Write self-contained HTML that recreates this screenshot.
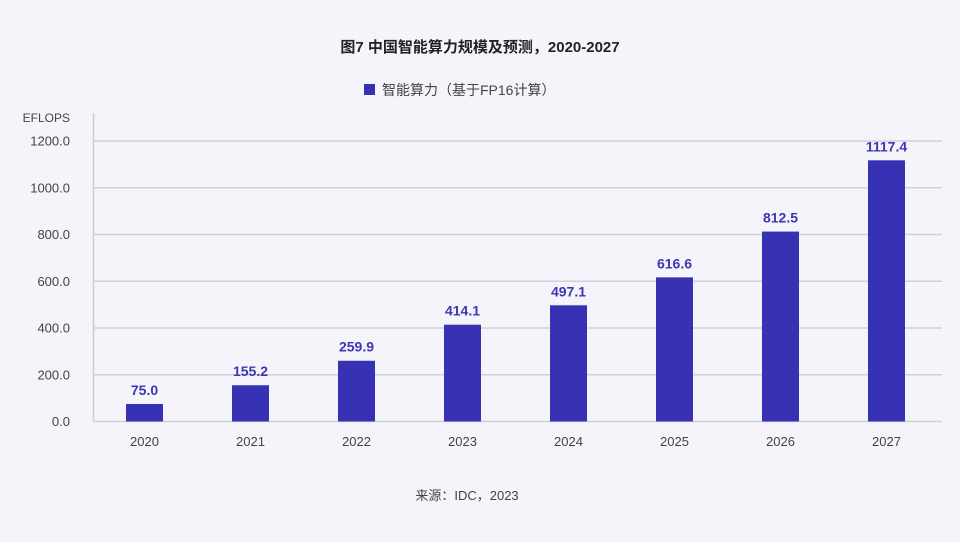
<!DOCTYPE html>
<html><head><meta charset="utf-8"><style>
html,body{margin:0;padding:0;background:#f4f4fa;}
svg{display:block;font-family:"Liberation Sans","Noto Sans CJK SC",sans-serif;}
</style></head><body>
<svg width="960" height="542" viewBox="0 0 960 542" id="chart">
<rect width="960" height="542" fill="#f4f4fa"/>
<text x="480" y="52" text-anchor="middle" font-size="15" font-weight="bold" fill="#222">图7 中国智能算力规模及预测，2020-2027</text>
<g>
<rect x="364" y="84" width="11" height="11" fill="#3732b3"/>
<text x="382" y="95" font-size="14" fill="#444">智能算力（基于FP16计算）</text>
</g>
<text x="70" y="122" text-anchor="end" font-size="12" fill="#444">EFLOPS</text>
<line x1="93.5" y1="113" x2="93.5" y2="421" stroke="#ccc" stroke-width="1.5"/>
<g id="grid"></g><g id="bars"></g><g id="xlabels"></g>
<text x="467" y="500" text-anchor="middle" font-size="13" fill="#444">来源：IDC，2023</text>
</svg>
<script>
const categories=["2020","2021","2022","2023","2024","2025","2026","2027"];
const values=[75.0,155.2,259.9,414.1,497.1,616.6,812.5,1117.4];
const valueLabels=["75.0","155.2","259.9","414.1","497.1","616.6","812.5","1117.4"];
const yTicks=[0,200,400,600,800,1000,1200];
const NS="http://www.w3.org/2000/svg";
const y0=421.5,yTop=141,yMax=1200,xL=93,xR=942;
function y(v){return y0-(v/yMax)*(y0-yTop);}
const band=(xR-xL-2)/categories.length;
function xc(i){return 144.5+i*106;}
function mk(t,a,p){const e=document.createElementNS(NS,t);for(const k in a)e.setAttribute(k,a[k]);p.appendChild(e);return e;}
const grid=document.getElementById('grid');
yTicks.forEach(t=>{
const l=mk('line',{x1:93,x2:942,y1:y(t),y2:y(t),stroke:'#d0d0d8','stroke-width':1.5},grid);


const tx=mk('text',{x:70,y:y(t)+4.5,'text-anchor':'end','font-size':13,fill:'#444'},grid);
tx.textContent=t.toFixed(1);


});
const bars=document.getElementById('bars'),xl=document.getElementById('xlabels');
categories.forEach((c,i)=>{
const b=mk('rect',{x:xc(i)-18.5,y:y(values[i]),width:37,height:y0-y(values[i]),fill:'#3732b3'},bars);


const v=mk('text',{x:xc(i),y:y(values[i])-9,'text-anchor':'middle','font-size':14,'font-weight':'bold',fill:'#3d36b5'},bars);
v.textContent=valueLabels[i];


const t=mk('text',{x:xc(i),y:446,'text-anchor':'middle','font-size':13,fill:'#444'},xl);
t.textContent=c;


});
</script>
</body></html>
